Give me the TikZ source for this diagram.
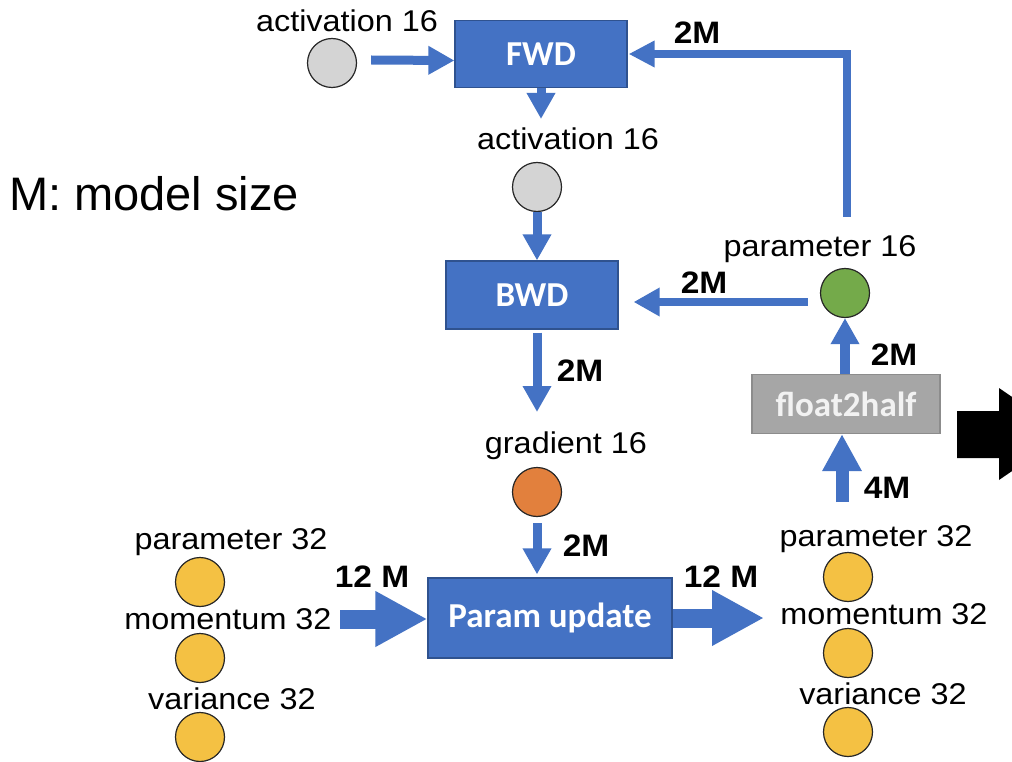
\documentclass[tikz,border=0pt]{standalone}
\usepackage{fontspec}
\setmainfont{Liberation Sans}
\newfontfamily\labfont[FakeStretch=1.08]{Liberation Sans}
\newfontfamily\boxfont{Carlito}
\usetikzlibrary{arrows.meta}

\definecolor{flowblue}{HTML}{4472C4}
\definecolor{boxedge}{HTML}{2F528F}
\definecolor{halfgray}{HTML}{A6A6A6}
\definecolor{halfedge}{HTML}{8C8C8C}
\definecolor{actgray}{HTML}{D4D4D4}
\definecolor{gradorange}{HTML}{E2803D}
\definecolor{paramgreen}{HTML}{74AA4A}
\definecolor{stategold}{HTML}{F4C143}

\begin{document}
\begin{tikzpicture}[x=1pt,y=-1pt,
  lab/.style={font=\labfont\fontsize{30}{36}\selectfont, inner sep=0pt, anchor=base},
  qty/.style={font=\labfont\bfseries\fontsize{31}{37}\selectfont, inner sep=0pt, anchor=base},
  stage/.style={draw=boxedge, line width=1.2pt, fill=flowblue, text=white,
    font=\boxfont\bfseries\fontsize{35}{40}\selectfont, inner sep=0pt},
  tensor/.style={circle, draw=black!85, line width=1.2pt, minimum size=49pt, inner sep=0pt},
  thinflow/.style={draw=flowblue, line width=9pt, -{Triangle[length=26pt,width=27pt]}},
  midflow/.style={draw=flowblue, line width=13pt, -{Triangle[length=37pt,width=37pt]}},
  bigflow/.style={draw=flowblue, line width=19pt, -{Triangle[length=52pt,width=52pt]}}
]
\clip (0,0) rectangle (1012,762);
\fill[white] (0,0) rectangle (1012,762);

% processing stages
\node[stage, minimum width=172pt, minimum height=67pt] (fwd) at (541,54) {FWD};
\node[stage, minimum width=172pt, minimum height=68pt] (bwd) at (532,295) {BWD};
\node[stage, minimum width=244pt, minimum height=80pt] (upd) at (550,618) {Param update};
\node[stage, draw=halfedge, fill=halfgray, text=white!95!black,
      minimum width=188pt, minimum height=59pt] (f2h) at (846,404) {float2half};

% tensors
\node[tensor, fill=actgray] (a0) at (332,63) {};
\node[tensor, fill=actgray] (a1) at (537,187) {};
\node[tensor, fill=gradorange] (g) at (537,492) {};
\node[tensor, fill=paramgreen] (p16) at (845,293) {};
\node[tensor, fill=stategold] (L1) at (200,582) {};
\node[tensor, fill=stategold] (L2) at (200,658) {};
\node[tensor, fill=stategold] (L3) at (200,737) {};
\node[tensor, fill=stategold] (R1) at (848,577) {};
\node[tensor, fill=stategold] (R2) at (848,653) {};
\node[tensor, fill=stategold] (R3) at (848,732) {};

% tensor labels
\node[lab] (ta0) at (347,32) {activation 16};
\node[lab] (ta1) at (568,150) {activation 16};
\node[lab] (tp16) at (820,257) {parameter 16};
\node[lab] (tg) at (566,453) {gradient 16};
\node[lab] (tL1) at (231,549) {parameter 32};
\node[lab] (tL2) at (228,629) {momentum 32};
\node[lab] (tL3) at (232,709) {variance 32};
\node[lab] (tR1) at (876,546) {parameter 32};
\node[lab] (tR2) at (884,624) {momentum 32};
\node[lab] (tR3) at (883,704) {variance 32};
\node[font=\fontsize{47}{56}\selectfont, inner sep=0pt, anchor=base west] (legend) at (9,211) {M: model size};

% traffic sizes
\node[qty] (q1) at (697,44) {2M};
\node[qty] (q2) at (704,293) {2M};
\node[qty] (q3) at (580,381) {2M};
\node[qty] (q4) at (586,556) {2M};
\node[qty] (q5) at (894,365) {2M};
\node[qty] (q6) at (887,498) {4M};
\node[qty] (q7) at (372,587) {12 M};
\node[qty] (q8) at (721,587) {12 M};

% free ends of connectors
\coordinate (fwdout) at (541,119);
\coordinate (bwdout) at (537,412);
\coordinate (lin) at (340,619);
\coordinate (rout) at (764,618);
\coordinate (rup) at (842,502);
\coordinate (ptap) at (847,217);

% forward / backward flow
\draw[thinflow] ([shift={(14,-3)}]a0.east) -- ([yshift=-6.5pt]fwd.west);
\draw[thinflow] (fwd.south -| fwdout) -- (fwdout);
\draw[thinflow] (a1.south) -- (a1.south |- bwd.north);
\draw[thinflow, shorten <=3pt] (bwd.south -| bwdout) -- (bwdout);
\draw[thinflow, shorten <=6pt, shorten >=3pt] (g.south) -- (g.south |- upd.north);

% optimizer step
\draw[bigflow] (lin) -- (lin -| upd.west);
\draw[bigflow] (upd.east |- rout) -- (rout);
\draw[midflow] (rup) -- (rup |- f2h.south);
\draw[thinflow, line width=9.5pt] (f2h.north -| p16) -- (p16.south);

% half-precision parameters back to the passes
\draw[thinflow, line width=8.5pt, shorten <=12pt, shorten >=15pt]
  ([yshift=-9pt]p16.west) -- ([yshift=-9pt]p16.west -| bwd.east);
\draw[thinflow, line width=8.5pt, line join=miter, -{Triangle[length=26pt,width=25pt]}]
  (ptap) |- ([xshift=1pt]fwd.east);

% outgoing arrow at the right edge
\fill[black] (957,411) -- (999,411) -- (999,388) -- (1066,434) -- (999,480)
  -- (999,458) -- (957,458) -- cycle;
\end{tikzpicture}
\end{document}
